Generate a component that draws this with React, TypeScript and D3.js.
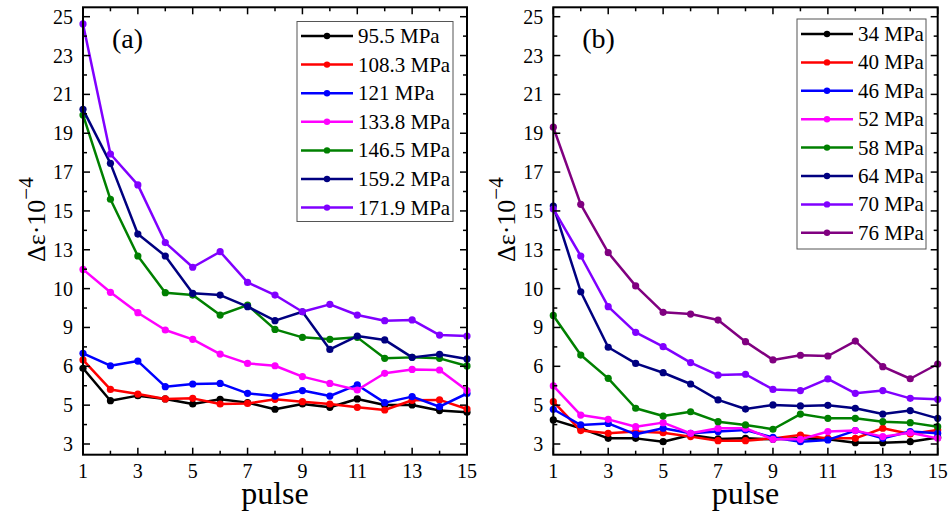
import React from "react";
import * as d3 from "d3";

const pulses = [1, 2, 3, 4, 5, 6, 7, 8, 9, 10, 11, 12, 13, 14, 15];
const xTickLabels = [1, 3, 5, 7, 9, 11, 13, 15];
const yTickValues = [3, 5, 7, 9, 11, 13, 15, 17, 19, 21, 23, 25];
const yTickLabels = ["3", "5", "6", "9", "10", "13", "15", "17", "19", "21", "23", "25"];
const yMinorValues = [4, 6, 8, 10, 12, 14, 16, 18, 20, 22, 24];

const namesA = ["95.5 MPa", "108.3 MPa", "121 MPa", "133.8 MPa", "146.5 MPa", "159.2 MPa", "171.9 MPa"];
const colorsA = ["#000000", "#ff0000", "#0000ff", "#ff00ff", "#008000", "#000080", "#8000ff"];
const a955 = [6.9, 5.23, 5.49, 5.32, 5.06, 5.3, 5.13, 4.79, 5.06, 4.89, 5.32, 5.01, 5.01, 4.72, 4.63];
const a1083 = [7.33, 5.81, 5.57, 5.32, 5.35, 5.06, 5.09, 5.3, 5.18, 5.06, 4.89, 4.75, 5.25, 5.27, 4.8];
const a121 = [7.67, 7.03, 7.27, 5.95, 6.09, 6.12, 5.61, 5.47, 5.75, 5.47, 6.04, 5.13, 5.44, 4.92, 5.6];
const a1338 = [11.99, 10.81, 9.76, 8.87, 8.39, 7.63, 7.15, 7.03, 6.47, 6.12, 5.78, 6.64, 6.84, 6.81, 5.75];
const a1465 = [19.94, 15.6, 12.68, 10.79, 10.67, 9.64, 10.15, 8.9, 8.49, 8.39, 8.49, 7.41, 7.46, 7.41, 7.02];
const a1592 = [20.23, 17.45, 13.81, 12.68, 10.76, 10.67, 10.07, 9.35, 9.81, 7.87, 8.56, 8.36, 7.46, 7.62, 7.38];
const a1719 = [24.63, 17.93, 16.34, 13.37, 12.1, 12.9, 11.32, 10.67, 9.81, 10.19, 9.64, 9.35, 9.39, 8.61, 8.56];

const namesB = ["34 MPa", "40 MPa", "46 MPa", "52 MPa", "58 MPa", "64 MPa", "70 MPa", "76 MPa"];
const colorsB = ["#000000", "#ff0000", "#0000ff", "#ff00ff", "#008000", "#000080", "#8000ff", "#800080"];
const b34 = [4.24, 3.81, 3.29, 3.29, 3.12, 3.46, 3.26, 3.29, 3.24, 3.29, 3.24, 3.07, 3.07, 3.12, 3.34];
const b40 = [5.18, 3.69, 3.55, 3.64, 3.58, 3.38, 3.17, 3.17, 3.29, 3.46, 3.29, 3.29, 3.81, 3.51, 3.72];
const b46 = [4.79, 3.98, 4.06, 3.5, 3.81, 3.55, 3.64, 3.72, 3.34, 3.12, 3.21, 3.69, 3.29, 3.64, 3.55];
const b52 = [5.99, 4.49, 4.27, 3.89, 4.1, 3.55, 3.81, 3.81, 3.24, 3.24, 3.64, 3.69, 3.38, 3.58, 3.29];
const b58 = [9.62, 7.58, 6.38, 4.84, 4.44, 4.66, 4.15, 3.98, 3.76, 4.54, 4.32, 4.32, 4.15, 4.1, 3.89];
const b64 = [15.25, 10.84, 7.98, 7.15, 6.67, 6.09, 5.27, 4.8, 5.01, 4.96, 4.99, 4.84, 4.54, 4.72, 4.32];
const b70 = [15.1, 12.68, 10.07, 8.75, 8.01, 7.19, 6.55, 6.59, 5.81, 5.75, 6.35, 5.61, 5.75, 5.35, 5.3];
const b76 = [19.31, 15.34, 12.85, 11.14, 9.78, 9.69, 9.38, 8.27, 7.33, 7.57, 7.53, 8.3, 6.98, 6.36, 7.12];

const seriesA = [a955, a1083, a121, a1338, a1465, a1592, a1719];
const seriesB = [b34, b40, b46, b52, b58, b64, b70, b76];

const FONT = "Liberation Serif";

type PanelProps = {
  x0: number;
  x1: number;
  tag: string;
  names: string[];
  colors: string[];
  series: number[][];
  legend: { x: number; y: number; w: number; h: number; row0: number; rowStep: number };
};

function Panel({ x0, x1, tag, names, colors, series, legend }: PanelProps) {
  const top = 7.3;
  const bottom = 454.7;
  const x = d3.scaleLinear().domain([1, 15]).range([x0, x1]);
  const y = d3.scaleLinear().domain([3, 25]).range([444, 16.7]);
  const line = d3
    .line<number>()
    .x((_, i) => x(pulses[i]))
    .y((d) => y(d));
  const lgLineX0 = legend.x + 4;
  const lgLineX1 = legend.x + 56;
  return (
    <g style={{ fontFamily: FONT }}>
      {series.map((vals, si) => (
        <g key={si}>
          <path d={line(vals) || ""} fill="none" stroke={colors[si]} strokeWidth={2.5} strokeLinejoin="round" />
          {vals.map((v, i) => (
            <circle key={i} cx={x(pulses[i])} cy={y(v)} r={3.6} fill={colors[si]} />
          ))}
        </g>
      ))}
      <rect x={x0} y={top} width={x1 - x0} height={bottom - top} fill="none" stroke="#000" strokeWidth={2} />
      {pulses.map((p) => {
        const len = p % 2 === 1 ? 7 : 4;
        return (
          <g key={p}>
            <line x1={x(p)} x2={x(p)} y1={bottom} y2={bottom - len} stroke="#000" strokeWidth={1.5} />
            <line x1={x(p)} x2={x(p)} y1={top} y2={top + len} stroke="#000" strokeWidth={1.5} />
          </g>
        );
      })}
      {xTickLabels.map((p) => (
        <text key={p} x={x(p)} y={478} textAnchor="middle" fontSize={20} fill="#000">
          {p}
        </text>
      ))}
      {yTickValues.map((v, i) => (
        <g key={v}>
          <line x1={x0} x2={x0 + 7} y1={y(v)} y2={y(v)} stroke="#000" strokeWidth={1.5} />
          <line x1={x1} x2={x1 - 7} y1={y(v)} y2={y(v)} stroke="#000" strokeWidth={1.5} />
          <text x={x0 - 10} y={y(v) + 7} textAnchor="end" fontSize={20} fill="#000">
            {yTickLabels[i]}
          </text>
        </g>
      ))}
      {yMinorValues.map((v) => (
        <g key={"m" + v}>
          <line x1={x0} x2={x0 + 4} y1={y(v)} y2={y(v)} stroke="#000" strokeWidth={1.5} />
          <line x1={x1} x2={x1 - 4} y1={y(v)} y2={y(v)} stroke="#000" strokeWidth={1.5} />
        </g>
      ))}
      <text x={(x0 + x1) / 2} y={504} textAnchor="middle" fontSize={32} fill="#000">
        pulse
      </text>
      <text transform={`translate(${x0 - 38},262) rotate(-90)`} fontSize={26} fill="#000">
        Δε·10
        <tspan dy={-12} fontSize={21}>
          −4
        </tspan>
      </text>
      <text x={x0 + 29} y={48} fontSize={28} fill="#000">
        {tag}
      </text>
      <rect x={legend.x} y={legend.y} width={legend.w} height={legend.h} fill="#fff" stroke="#555" strokeWidth={1} />
      {names.map((n, i) => {
        const ry = legend.row0 + i * legend.rowStep;
        return (
          <g key={n}>
            <line x1={lgLineX0} x2={lgLineX1} y1={ry} y2={ry} stroke={colors[i]} strokeWidth={2.5} />
            <circle cx={(lgLineX0 + lgLineX1) / 2} cy={ry} r={3.2} fill={colors[i]} />
            <text x={lgLineX1 + 5} y={ry + 7} fontSize={21} fill="#000">
              {n}
            </text>
          </g>
        );
      })}
    </g>
  );
}

export default function App() {
  return (
    <svg
      width={950}
      height={524}
      viewBox="0 0 950 524"
      style={{ position: "absolute", left: 0, top: 0, background: "#fff" }}
    >
      <rect x={0} y={0} width={950} height={524} fill="#fff" />
      <Panel
        x0={83}
        x1={467}
        tag="(a)"
        names={namesA}
        colors={colorsA}
        series={seriesA}
        legend={{ x: 297, y: 21.5, w: 156, h: 200, row0: 36, rowStep: 28.6 }}
      />
      <Panel
        x0={553.3}
        x1={937.7}
        tag="(b)"
        names={namesB}
        colors={colorsB}
        series={seriesB}
        legend={{ x: 797, y: 19, w: 129, h: 230, row0: 34, rowStep: 28.4 }}
      />
    </svg>
  );
}
